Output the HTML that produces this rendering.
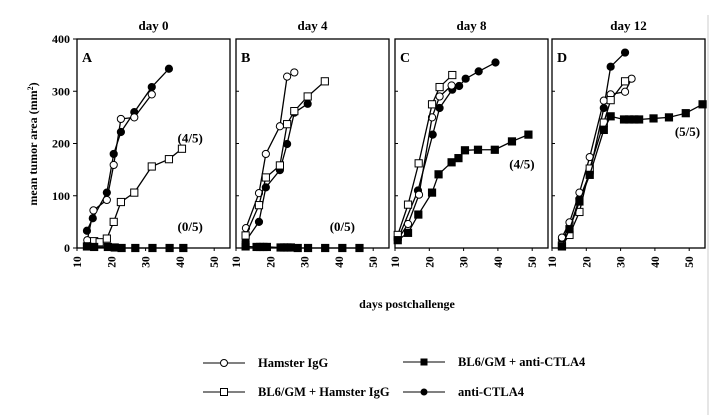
<!DOCTYPE html>
<html><head><meta charset="utf-8"><style>
body{margin:0;background:#fff;}
svg{display:block;font-family:"Liberation Serif",serif;font-weight:bold;}
</style></head><body>
<svg id="chart" width="720" height="415" viewBox="0 0 720 415" xmlns="http://www.w3.org/2000/svg">
<line x1="708" y1="15" x2="708" y2="415" stroke="#ddd" stroke-width="1.5"/>
<text transform="translate(37,144) rotate(-90)" font-size="12" text-anchor="middle">mean tumor area (mm<tspan font-size="8" dy="-4">2</tspan><tspan dy="4">)</tspan></text>
<text x="407" y="308" font-size="12" text-anchor="middle">days postchallenge</text>
<g id="legend">
<g><line x1="203" y1="363" x2="245" y2="363" stroke="#000"/><circle cx="224" cy="363" r="3.5" fill="#fff" stroke="#000"/><text x="258" y="367" font-size="12.5">Hamster IgG</text></g>
<g><line x1="203" y1="392" x2="245" y2="392" stroke="#000"/><rect x="220.5" y="388.5" width="7" height="7" fill="#fff" stroke="#000"/><text x="258" y="396" font-size="12.5">BL6/GM + Hamster IgG</text></g>
<g><line x1="403" y1="362" x2="445" y2="362" stroke="#000"/><rect x="420.5" y="358.5" width="7" height="7" fill="#000"/><text x="458" y="366" font-size="12.5">BL6/GM + anti-CTLA4</text></g>
<g><line x1="403" y1="392" x2="445" y2="392" stroke="#000"/><circle cx="424" cy="392" r="3.5" fill="#000"/><text x="458" y="396" font-size="12.5">anti-CTLA4</text></g>
</g>
</svg>
<script>
const panelNames=["day 0","day 4","day 8","day 12"];
const panelLetters=["A","B","C","D"];
const xTicks=[10,20,30,40,50];
const yTicks=[0,100,200,300,400];
const hamX=[[13,14.8,18.7,20.7,22.8,26.7,31.8],[12.9,16.7,18.7,22.8,24.9,27],[10.8,13.8,17,20.8,23,26.5],[12.9,15.1,18,21,25.1,27.1,31.3,33.2]];
const hamY=[[15,72,92,159,247,250,294],[38,105,180,233,328,336],[16,46,102,250,290,311],[20,49,106,174,282,294,299,324]];
const gmHamX=[[12.9,15,16.6,18.7,20.7,22.8,26.7,31.8,36.8,40.6],[12.8,16.7,18.7,22.8,24.9,27,30.9,35.9],[10.8,13.8,16.9,20.8,23,26.7],[12.9,15.1,18,21,25.1,27.1,31.3]];
const gmHamY=[[3,13,11,18,50,88,106,156,170,190],[24,82,135,158,237,262,290,319],[25,83,162,275,308,331],[5,25,69,152,240,283,319]];
const gmCtlaX=[[13,15,19,21,23,27,32,37,41],[12.8,16,17,18,19,23,24,25,26,28,31,36,41,46],[10.8,13.8,16.8,20.8,22.7,26.5,28.5,30.4,34.2,39.1,44.1,48.9],[12.9,15.1,18,21,25.1,27.1,31,32.5,34,35.4,39.6,44.1,49,53.9]];
const gmCtlaY=[[3,2,2,1,0,0,0,0,0],[3,2,2,2,2,1,1,1,1,0,0,0,0,0],[15,29,64,106,141,164,172,187,188,188,204,217],[3,36,89,140,226,252,246,246,246,246,248,250,258,275]];
const ctlaX=[[12.9,14.6,18.7,20.7,22.8,26.7,31.8,36.8],[12.8,16.7,18.7,22.8,24.9,27,30.9],[10.8,16.7,21,23,26.7,28.7,30.6,34.4,39.3],[12.9,15.1,18,21,25.1,27.1,31.3]];
const ctlaY=[[33,57,106,180,222,260,308,343],[13,50,116,149,199,259,276],[16,110,217,268,303,310,324,338,355],[17,38,94,143,268,347,374]];
const annText=["(4/5)","(0/5)","(0/5)","(4/5)","(5/5)"];
const annPanel=[0,0,1,2,3];
const annX=[43,43,41,47,49.5];
const annY=[210,40,40,160,222];

const svg=document.getElementById('chart');
const NS="http://www.w3.org/2000/svg";
const panelLeft=[77,236,395,552];
const PW=153,SX=3.43,Y0=248,SY=0.5225;
function xs(p,v){return panelLeft[p]+(v-10)*SX;}
function ys(v){return Y0-v*SY;}
function mk(tag,attrs,parent){const e=document.createElementNS(NS,tag);for(const k in attrs)e.setAttribute(k,attrs[k]);(parent||svg).appendChild(e);return e;}

yTicks.forEach(t=>{
  const tx=mk('text',{x:70,y:ys(t)+4,'font-size':12,'text-anchor':'end'});
  tx.textContent=t;
  
  
  mk('line',{x1:73,x2:77,y1:ys(t),y2:ys(t),stroke:'#000'});
});

for(let p=0;p<4;p++){
  const g=mk('g',{});
  
  
  const L=panelLeft[p];
  const fr=mk('rect',{x:L,y:ys(400),width:PW,height:Y0-ys(400),fill:'none',stroke:'#000','stroke-width':1.3},g);
  
  
  if(p>0) yTicks.forEach(t=>{mk('line',{x1:L,x2:L+3,y1:ys(t),y2:ys(t),stroke:'#000'},g);});
  const tt=mk('text',{x:L+PW/2,y:30,'font-size':13,'text-anchor':'middle'},g);
  tt.textContent=panelNames[p];
  
  
  const lt=mk('text',{x:L+5,y:62,'font-size':14},g);
  lt.textContent=panelLetters[p];
  
  
  xTicks.forEach(t=>{
    const x=xs(p,t);
    mk('line',{x1:x,x2:x,y1:Y0,y2:Y0+3,stroke:'#000'},g);
    const tx=mk('text',{'font-size':11.5,'text-anchor':'middle',transform:`translate(${x+4},${262}) rotate(-90)`},g);
    tx.textContent=t;
    
    
  });
  const series=[[ctlaX,ctlaY,'circle','#000','anti-ctla4'],[hamX,hamY,'circle','#fff','hamster-igg'],[gmHamX,gmHamY,'rect','#fff','bl6gm-hamster-igg'],[gmCtlaX,gmCtlaY,'rect','#000','bl6gm-anti-ctla4']];
  series.forEach(s=>{
    const X=s[0][p],Yv=s[1][p];
    const pts=X.map((v,i)=>xs(p,v)+','+ys(Yv[i])).join(' ');
    const pl=mk('polyline',{points:pts,fill:'none',stroke:'#000','stroke-width':1.3},g);
    
    
    X.forEach((v,i)=>{
      let m;
      if(s[2]==='circle') m=mk('circle',{cx:xs(p,v),cy:ys(Yv[i]),r:3.6,fill:s[3],stroke:'#000','stroke-width':1},g);
      else m=mk('rect',{x:xs(p,v)-3.6,y:ys(Yv[i])-3.6,width:7.2,height:7.2,fill:s[3],stroke:'#000','stroke-width':1},g);
      
      
    });
  });
}
annText.forEach((t,i)=>{
  const tx=mk('text',{x:xs(annPanel[i],annX[i]),y:ys(annY[i])+4,'font-size':13,'text-anchor':'middle'});
  tx.textContent=t;
  
  
});
</script>
</body></html>
